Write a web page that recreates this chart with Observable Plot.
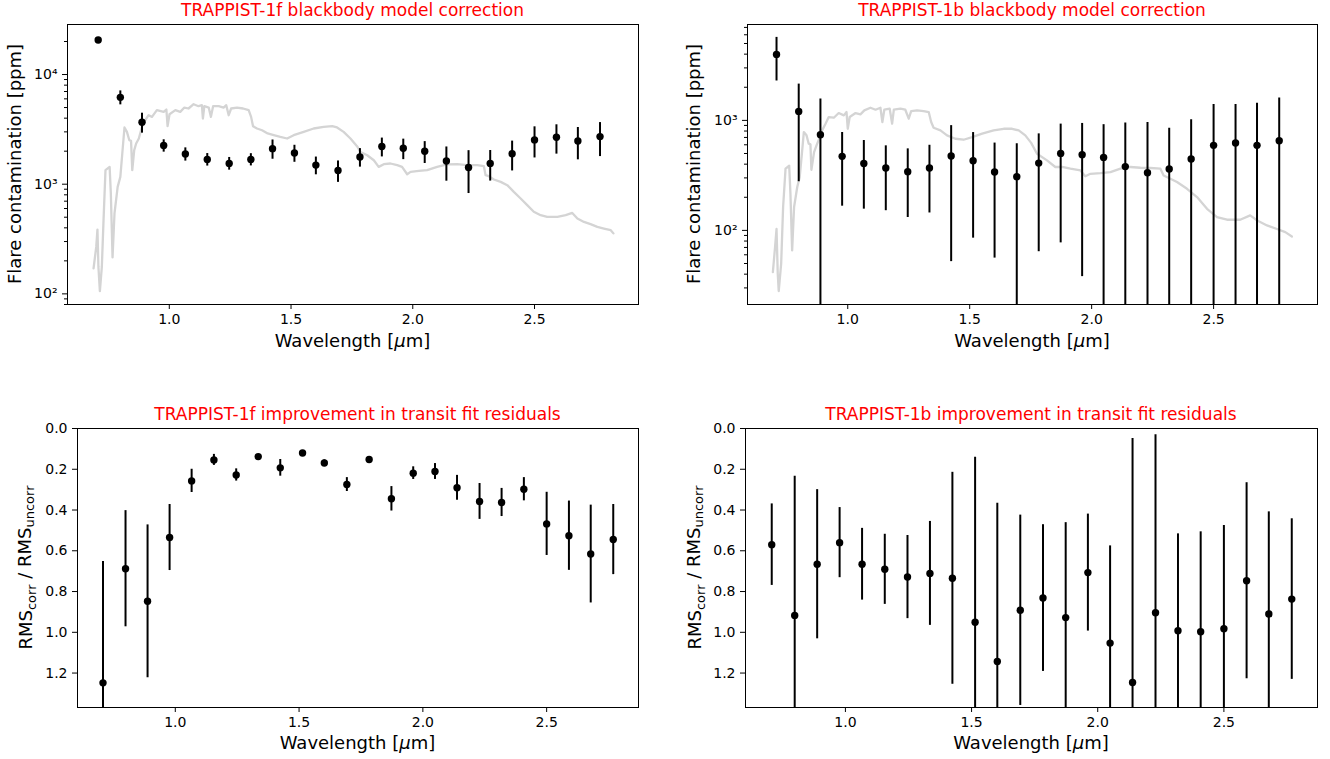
<!DOCTYPE html>
<html>
<head>
<meta charset="utf-8">
<script src="https://cdn.jsdelivr.net/npm/d3@7"></script>
<script src="https://cdn.jsdelivr.net/npm/@observablehq/plot@0.6"></script>
<style>
  html, body { margin: 0; padding: 0; background: #fff; }
  #fig { position: relative; width: 1330px; height: 759px; font-family: "DejaVu Sans", sans-serif; }
  #fig .panel { position: absolute; }
</style>
</head>
<body>
<div id="fig"></div>
<script>
// Spectroscopic bin centres [µm]
const wavelength = [0.708, 0.799, 0.888, 0.977, 1.066, 1.156, 1.246, 1.335, 1.424, 1.514, 1.602, 1.693,
                    1.783, 1.873, 1.961, 2.049, 2.138, 2.229, 2.318, 2.408, 2.500, 2.590, 2.678, 2.769];

// Flare contamination per bin [ppm]
const f1Flare    = [20650, 6190, 3680, 2250, 1884, 1683, 1548, 1683, 2109, 1924, 1493, 1334,
                    1771, 2203, 2125, 1995, 1625, 1422, 1548, 1896, 2535, 2680, 2478, 2716];
const f1FlareErr = [600, 900, 760, 290, 260, 220, 205, 215, 420, 340, 275, 295,
                    340, 430, 450, 450, 560, 600, 480, 575, 800, 800, 810, 930];
const b1Flare    = [3981, 1207, 741, 471, 406, 369, 341, 369, 474, 430, 339, 308,
                    409, 501, 488, 461, 380, 334, 361, 445, 593, 622, 593, 653];
const b1FlareErr = [1700, 930, 820, 305, 250, 218, 210, 225, 422, 345, 283, 306,
                    345, 424, 450, 453, 566, 625, 485, 570, 804, 775, 835, 944];

// Ratio of transit-fit residual RMS, corrected / uncorrected
const f1Rms    = [1.248, 0.688, 0.848, 0.535, 0.257, 0.154, 0.228, 0.138, 0.193, 0.120, 0.169, 0.275,
                  0.152, 0.345, 0.219, 0.211, 0.291, 0.358, 0.363, 0.298, 0.468, 0.526, 0.616, 0.545];
const f1RmsErr = [0.596, 0.285, 0.375, 0.162, 0.057, 0.027, 0.030, 0.008, 0.041, 0.010, 0.015, 0.034,
                  0.012, 0.060, 0.031, 0.039, 0.061, 0.088, 0.069, 0.057, 0.155, 0.170, 0.240, 0.172];
const b1Rms    = [0.570, 0.917, 0.666, 0.560, 0.666, 0.691, 0.729, 0.711, 0.735, 0.951, 1.143, 0.892,
                  0.832, 0.928, 0.707, 1.053, 1.246, 0.904, 0.992, 0.997, 0.982, 0.747, 0.910, 0.837];
const b1RmsErr = [0.200, 0.683, 0.366, 0.172, 0.176, 0.172, 0.204, 0.255, 0.520, 0.810, 0.776, 0.467,
                  0.360, 0.466, 0.287, 0.477, 1.197, 0.873, 0.475, 0.490, 0.506, 0.481, 0.501, 0.394];

// Blackbody flare model (TRAPPIST-1f)
const f1ModelWl = [0.689, 0.700, 0.705, 0.709, 0.715, 0.723, 0.730, 0.738, 0.755, 0.760, 0.767, 0.775,
                   0.788, 0.799, 0.807, 0.816, 0.826, 0.836, 0.843, 0.848, 0.856, 0.864, 0.875, 0.888,
                   0.901, 0.915, 0.929, 0.949, 0.977, 0.988, 0.993, 1.001, 1.025, 1.045, 1.062, 1.079,
                   1.100, 1.120, 1.134, 1.138, 1.144, 1.162, 1.171, 1.180, 1.203, 1.223, 1.234, 1.244,
                   1.254, 1.278, 1.303, 1.326, 1.336, 1.344, 1.360, 1.381, 1.404, 1.429, 1.456, 1.484,
                   1.511, 1.552, 1.593, 1.634, 1.669, 1.689, 1.716, 1.744, 1.771, 1.785, 1.813, 1.840,
                   1.860, 1.881, 1.908, 1.936, 1.956, 1.977, 1.991, 2.025, 2.059, 2.100, 2.141, 2.182,
                   2.224, 2.265, 2.292, 2.299, 2.312, 2.333, 2.361, 2.388, 2.415, 2.443, 2.470, 2.497,
                   2.525, 2.552, 2.594, 2.628, 2.655, 2.676, 2.703, 2.730, 2.758, 2.785, 2.813, 2.824];
const f1Model   = [171, 268, 386, 176, 106, 176, 470, 1343, 1438, 822, 215, 541,
                   946, 1167, 1905, 3289, 3000, 2518, 2482, 1343, 2043, 2350, 2610, 3335,
                   3830, 4255, 4110, 4730, 4563, 4795, 3380, 4345, 4730, 4563, 5000, 4900,
                   5360, 5140, 5250, 3970, 5140, 5000, 4110, 5140, 5140, 5000, 5250, 4255,
                   4900, 5000, 4900, 4730, 4110, 3380, 3220, 3105, 2900, 2800, 2700, 2610,
                   2800, 3000, 3220, 3335, 3380, 3290, 3000, 2610, 2220, 1968, 1837, 1654,
                   1438, 1521, 1544, 1490, 1438, 1233, 1294, 1322, 1343, 1438, 1513, 1521,
                   1490, 1490, 1460, 1208, 1183, 1104, 1050, 980, 851, 741, 644, 560,
                   522, 504, 504, 522, 547, 487, 453, 432, 408, 394, 381, 356];

// Blackbody flare model (TRAPPIST-1b)
const b1ModelWl = [0.693, 0.702, 0.708, 0.713, 0.717, 0.727, 0.735, 0.745, 0.760, 0.765, 0.772, 0.780,
                   0.793, 0.803, 0.812, 0.820, 0.831, 0.840, 0.847, 0.851, 0.862, 0.872, 0.883, 0.895,
                   0.909, 0.922, 0.943, 0.963, 0.984, 0.995, 1.000, 1.008, 1.032, 1.052, 1.068, 1.093,
                   1.114, 1.134, 1.142, 1.150, 1.172, 1.182, 1.189, 1.216, 1.236, 1.250, 1.260, 1.284,
                   1.311, 1.332, 1.342, 1.352, 1.380, 1.407, 1.441, 1.475, 1.510, 1.551, 1.598, 1.639,
                   1.674, 1.701, 1.728, 1.752, 1.776, 1.817, 1.851, 1.879, 1.913, 1.954, 1.974, 1.995,
                   2.036, 2.077, 2.118, 2.159, 2.200, 2.241, 2.282, 2.295, 2.323, 2.350, 2.391, 2.432,
                   2.473, 2.514, 2.555, 2.609, 2.650, 2.679, 2.719, 2.760, 2.794, 2.821];
const b1Model   = [41.8, 70.5, 103, 40.4, 28.1, 49.8, 163, 364, 387, 216, 65.8, 163,
                   248, 305, 498, 783, 731, 614, 605, 356, 515, 593, 681, 811,
                   933, 1072, 1057, 1166, 1110, 1190, 839, 1072, 1166, 1134, 1233, 1303,
                   1250, 1303, 966, 1250, 1277, 933, 1250, 1277, 1250, 1036, 1216, 1233,
                   1216, 1190, 966, 858, 811, 731, 681, 667, 705, 757, 811, 839,
                   839, 811, 731, 624, 498, 433, 377, 377, 364, 351, 310, 327,
                   332, 339, 364, 377, 371, 369, 364, 316, 295, 275, 239, 201,
                   157, 132, 125, 125, 137, 123, 111, 103, 96.5, 88];

const xTicks = [1.0, 1.5, 2.0, 2.5];
const logMajor = [100, 1000, 10000];
const rmsTicks = [0, 0.2, 0.4, 0.6, 0.8, 1.0, 1.2];

const FONT = "DejaVu Sans";
const fig = d3.select("#fig");
const supDigit = {"1": "¹", "2": "²", "3": "³", "4": "⁴", "5": "⁵"};

function logMinors(lo, hi) {
  const out = [];
  for (let e = Math.floor(Math.log10(lo)); e <= Math.ceil(Math.log10(hi)); e++) {
    for (let m = 2; m <= 9; m++) {
      const v = m * Math.pow(10, e);
      if (v >= lo && v <= hi) out.push(v);
    }
  }
  return out;
}

function panel(cfg) {
  const rows = wavelength.map((w, i) => {
    const v = cfg.values[i], e = cfg.errors[i];
    const lo = cfg.log ? Math.max(v - e, 1e-3) : v - e;
    return {w, v, lo, hi: v + e};
  });

  const marks = [];
  if (cfg.modelWl) {
    const model = cfg.modelWl.map((w, i) => ({w, v: cfg.model[i]}));
    marks.push(Plot.line(model, {x: "w", y: "v", stroke: "#d4d4d4", strokeWidth: 2.3,
                                 strokeLinejoin: "round", clip: true}));
  }
  marks.push(
    Plot.ruleX(rows, {x: "w", y1: "lo", y2: "hi", stroke: "black", strokeWidth: 2, clip: true}),
    Plot.dot(rows, {x: "w", y: "v", r: 3.7, fill: "black", stroke: "none", clip: true}),
    Plot.frame({stroke: "black", strokeWidth: 1}),
    Plot.axisX({ticks: xTicks, tickFormat: d => d.toFixed(1), tickSize: 5, tickPadding: 5,
                fontSize: 14, label: null})
  );
  if (cfg.log) {
    marks.push(
      Plot.axisY({ticks: logMajor.filter(t => t >= cfg.yDomain[0] && t <= cfg.yDomain[1]),
                  tickFormat: d => "10" + supDigit[String(Math.round(Math.log10(d)))],
                  tickSize: 5, tickPadding: 5, fontSize: 14, label: null}),
      Plot.axisY({ticks: logMinors(cfg.yDomain[0], cfg.yDomain[1]), tickFormat: () => "",
                  tickSize: 3, label: null})
    );
  } else {
    marks.push(
      Plot.axisY({ticks: rmsTicks, tickFormat: d => d.toFixed(1), tickSize: 5, tickPadding: 5,
                  fontSize: 14, label: null})
    );
  }

  const svg = Plot.plot({
    width: cfg.width, height: cfg.height,
    marginLeft: cfg.ml, marginRight: cfg.mr, marginTop: cfg.mt, marginBottom: cfg.mb,
    style: {fontFamily: FONT, fontSize: "14px", background: "transparent", overflow: "visible"},
    x: {domain: cfg.xDomain, label: null},
    y: cfg.log
      ? {type: "log", domain: cfg.yDomain, label: null}
      : {domain: cfg.yDomain, reverse: true, label: null},
    marks
  });

  const s = d3.select(svg);
  const cx = cfg.ml + (cfg.width - cfg.ml - cfg.mr) / 2;
  const cy = cfg.mt + (cfg.height - cfg.mt - cfg.mb) / 2;

  // panel title
  s.append("text")
    .attr("x", cx).attr("y", cfg.titleY)
    .attr("text-anchor", "middle").attr("fill", "#ff0000")
    .attr("font-family", FONT).attr("font-size", 17)
    .text(cfg.title);

  // x-axis label with italic mu
  const xl = s.append("text")
    .attr("x", cx).attr("y", cfg.xLabelY)
    .attr("text-anchor", "middle").attr("fill", "black")
    .attr("font-family", FONT).attr("font-size", 18);
  xl.append("tspan").text("Wavelength [");
  xl.append("tspan").attr("font-style", "italic").text("μ");
  xl.append("tspan").text("m]");

  // y-axis label
  const yl = s.append("text")
    .attr("transform", `translate(${cfg.yLabelX},${cy}) rotate(-90)`)
    .attr("text-anchor", "middle").attr("fill", "black")
    .attr("font-family", FONT).attr("font-size", 18);
  if (cfg.log) {
    yl.text("Flare contamination [ppm]");
  } else {
    yl.append("tspan").text("RMS");
    yl.append("tspan").attr("font-size", 13).attr("dy", "0.3em").text("corr");
    yl.append("tspan").attr("dy", "-0.3em").text(" / RMS");
    yl.append("tspan").attr("font-size", 13).attr("dy", "0.3em").text("uncorr");
  }

  const holder = fig.append("div").attr("class", "panel")
    .style("left", cfg.left + "px").style("top", cfg.top + "px");
  holder.node().appendChild(svg);
}

panel({
  left: 0, top: 0, width: 665, height: 380, ml: 67, mr: 27, mt: 24, mb: 76,
  xDomain: [0.582, 2.927], yDomain: [80, 28580], log: true,
  values: f1Flare, errors: f1FlareErr, modelWl: f1ModelWl, model: f1Model,
  title: "TRAPPIST-1f blackbody model correction", titleY: 16, xLabelY: 347, yLabelX: 21
});
panel({
  left: 665, top: 0, width: 665, height: 380, ml: 82, mr: 13, mt: 24, mb: 76,
  xDomain: [0.589, 2.926], yDomain: [21.2, 7440], log: true,
  values: b1Flare, errors: b1FlareErr, modelWl: b1ModelWl, model: b1Model,
  title: "TRAPPIST-1b blackbody model correction", titleY: 16, xLabelY: 347, yLabelX: 35
});
panel({
  left: 0, top: 380, width: 665, height: 379, ml: 77, mr: 27, mt: 48, mb: 52,
  xDomain: [0.605, 2.871], yDomain: [0, 1.369], log: false,
  values: f1Rms, errors: f1RmsErr,
  title: "TRAPPIST-1f improvement in transit fit residuals", titleY: 40, xLabelY: 369, yLabelX: 32
});
panel({
  left: 665, top: 380, width: 665, height: 379, ml: 80, mr: 13, mt: 48, mb: 52,
  xDomain: [0.604, 2.871], yDomain: [0, 1.369], log: false,
  values: b1Rms, errors: b1RmsErr,
  title: "TRAPPIST-1b improvement in transit fit residuals", titleY: 40, xLabelY: 369, yLabelX: 36
});
</script>
</body>
</html>
